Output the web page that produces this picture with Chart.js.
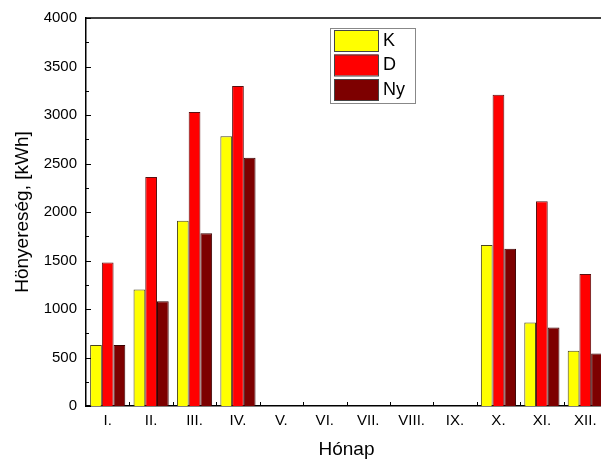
<!DOCTYPE html>
<html>
<head>
<meta charset="utf-8">
<script src="https://cdn.jsdelivr.net/npm/chart.js@4.4.1/dist/chart.umd.min.js"></script>
<style>
  html, body { margin: 0; padding: 0; background: #fff; overflow: hidden; }
  #wrap { width: 612px; height: 465px; }
</style>
</head>
<body>
<div id="wrap"><canvas id="chart"></canvas></div>
<script>
// months (Hónap)
const months = ["I.", "II.", "III.", "IV.", "V.", "VI.", "VII.", "VIII.", "IX.", "X.", "XI.", "XII."];

// heat gain [kWh] per orientation
const kValues  = [630, 1200, 1910, 2780, 0, 0, 0, 0, 0, 1660, 860, 570];
const dValues  = [1480, 2360, 3030, 3300, 0, 0, 0, 0, 0, 3210, 2110, 1360];
const nyValues = [630, 1080, 1780, 2560, 0, 0, 0, 0, 0, 1620, 810, 540];

const yMajorTicks = [0, 500, 1000, 1500, 2000, 2500, 3000, 3500, 4000];

const FONT = "'Liberation Sans', Arial, sans-serif";

// inward ticks, top frame line and boxed legend, drawn like the Origin plot
const framePlugin = {
    id: 'frame',
    afterDraw(chart) {
        const ctx = chart.ctx;
        const area = chart.chartArea;
        const x = chart.scales.x;
        const y = chart.scales.y;
        ctx.save();
        ctx.strokeStyle = '#000';
        ctx.lineWidth = 1.5;
        ctx.beginPath();
        ctx.moveTo(area.left, area.top);
        ctx.lineTo(area.right, area.top);
        ctx.stroke();

        ctx.lineWidth = 1;
        ctx.beginPath();
        for (let v = 0; v <= 4000; v += 250) {
            const py = Math.round(y.getPixelForValue(v)) + 0.5;
            const len = v % 500 === 0 ? 5 : 3;
            ctx.moveTo(area.left, py);
            ctx.lineTo(area.left + len, py);
        }
        for (let i = 0; i < months.length - 1; i++) {
            const px = Math.round(x.getPixelForValue(i + 0.5)) + 0.5;
            ctx.moveTo(px, area.bottom);
            ctx.lineTo(px, area.bottom - 4);
        }
        ctx.stroke();

        // legend box
        const lx = 330, ly = 28, lw = 85, lh = 75;
        ctx.fillStyle = '#fff';
        ctx.fillRect(lx, ly, lw, lh);
        ctx.strokeStyle = '#888';
        ctx.strokeRect(lx + 0.5, ly + 0.5, lw, lh);
        ctx.font = '18px ' + FONT;
        ctx.textBaseline = 'middle';
        chart.data.datasets.forEach((ds, i) => {
            const sy = ly + 2 + i * 24.5;
            ctx.fillStyle = ds.backgroundColor;
            ctx.fillRect(lx + 4, sy, 44, 21);
            ctx.strokeStyle = '#444';
            ctx.strokeRect(lx + 4.5, sy + 0.5, 44, 21);
            ctx.fillStyle = '#000';
            ctx.fillText(ds.label, lx + 53, sy + 11);
        });
        ctx.restore();
    }
};

new Chart(document.getElementById('chart'), {
    type: 'bar',
    data: {
        labels: months,
        datasets: [
            { label: 'K', data: kValues, backgroundColor: '#ffff00', borderColor: '#4a4420', borderWidth: 1 },
            { label: 'D', data: dValues, backgroundColor: '#ff0000', borderColor: '#5a1010', borderWidth: 1 },
            { label: 'Ny', data: nyValues, backgroundColor: '#7d0000', borderColor: '#3a0000', borderWidth: 1 }
        ]
    },
    options: {
        responsive: true,
        maintainAspectRatio: false,
        animation: false,
        datasets: { bar: { categoryPercentage: 0.81, barPercentage: 1.0 } },
        layout: { padding: { top: 18, right: 5, left: 0, bottom: 0 } },
        plugins: { legend: { display: false }, tooltip: { enabled: false } },
        scales: {
            x: {
                grid: { display: false },
                border: { display: true, color: '#000', width: 1.5 },
                ticks: { color: '#000', font: { family: FONT, size: 15 }, padding: -2 },
                title: { display: true, text: 'Hónap', color: '#000', font: { family: FONT, size: 19 }, padding: { top: 12 } },
                afterFit(scale) { scale.height = 59; }
            },
            y: {
                min: 0,
                max: 4000,
                afterBuildTicks(scale) { scale.ticks = yMajorTicks.map(v => ({ value: v })); },
                grid: { display: false },
                border: { display: true, color: '#000', width: 1.5 },
                ticks: { color: '#000', font: { family: FONT, size: 15 }, padding: 1, callback: v => String(v) },
                title: { display: true, text: 'Hönyereség, [kWh]', color: '#000', font: { family: FONT, size: 19 }, padding: { top: 11, bottom: 0 } },
                afterFit(scale) { scale.width = 86; }
            }
        }
    },
    plugins: [framePlugin]
});
</script>
</body>
</html>
